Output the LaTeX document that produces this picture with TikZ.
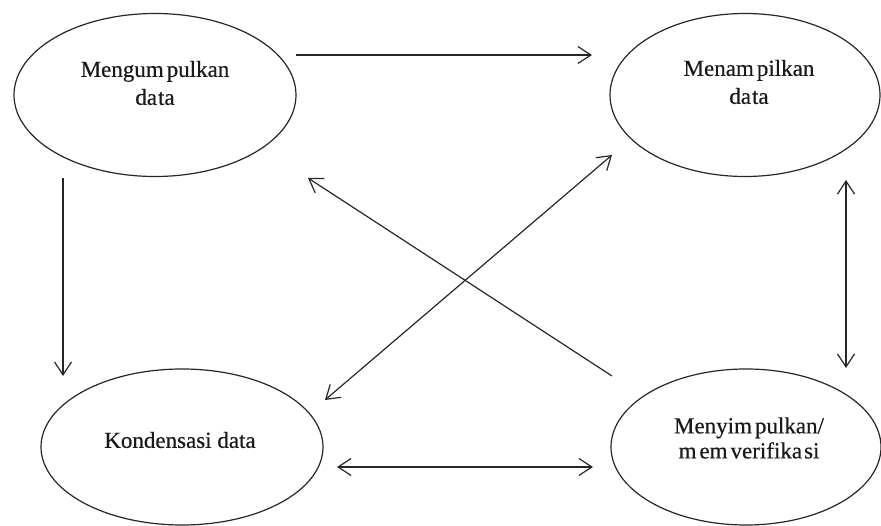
\documentclass[tikz,border=0pt]{standalone}
\usepackage{fontspec}
\setmainfont{Liberation Serif}[FakeBold=0.4]
\usetikzlibrary{arrows.meta,shapes.geometric}
\begin{document}
\begin{tikzpicture}[x=1pt,y=-1pt,
  oval/.style={draw=black!85, line width=1.2pt, ellipse, inner sep=0pt},
  lbl/.style={align=center, font=\fontsize{23}{28}\selectfont, text=black!90, inner sep=0pt},
  conn/.style={draw=black!85, line width=1.2pt, -{Straight Barb[length=13pt,width=17pt,line width=1.2pt]}},
  both/.style={draw=black!85, line width=1.2pt, {Straight Barb[length=13pt,width=17pt,line width=1.2pt]}-{Straight Barb[length=13pt,width=17pt,line width=1.2pt]}}
]
\useasboundingbox (0,0) rectangle (881,526);
% ellipses
\node[oval, minimum width=282pt, minimum height=163pt] (e1) at (155,95) {};
\node[oval, minimum width=270pt, minimum height=163pt] (e2) at (745,95) {};
\node[oval, minimum width=282pt, minimum height=156pt] (e3) at (182,447) {};
\node[oval, minimum width=270pt, minimum height=156pt] (e4) at (746,447) {};
% labels
\node[lbl] (t1) at (155,83) {Mengum\kern3pt pulkan\\da\kern1pt ta};
\node[lbl] (t2) at (749,82) {Menam\kern3pt pilkan\\da\kern1pt ta};
\node[lbl] (t3) at (180,440) {Kondensasi data};
\node[lbl, font=\fontsize{23}{25}\selectfont] (t4) at (749,438) {Menyim\kern3pt pulkan/\\m\kern3pt em\kern3pt verifika\kern2pt si};
% connector end points
\coordinate (a1s) at (296,55);  \coordinate (a1e) at (592,55);
\coordinate (a2s) at (63,178);  \coordinate (a2e) at (63,376);
\coordinate (a3s) at (325,400); \coordinate (a3e) at (612,155);
\coordinate (a4s) at (612,376); \coordinate (a4e) at (308,178);
\coordinate (a5s) at (846,180); \coordinate (a5e) at (846,368);
\coordinate (a6s) at (337,467); \coordinate (a6e) at (593,467);
% connectors
\draw[conn] (a1s) -- (a1e);
\draw[conn] (a2s) -- (a2e);
\draw[both] (a3s) -- (a3e);
\draw[conn] (a4s) -- (a4e);
\draw[both] (a5s) -- (a5e);
\draw[both] (a6s) -- (a6e);
\end{tikzpicture}
\end{document}
